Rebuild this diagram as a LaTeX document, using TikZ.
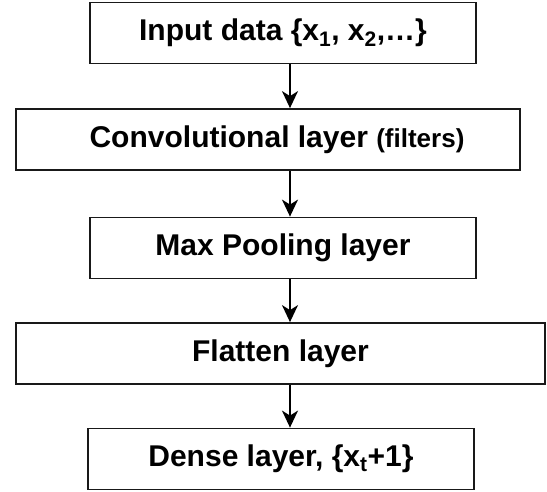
\documentclass[tikz,border=0pt]{standalone}
\usepackage{fontspec}
\setmainfont{Liberation Sans}
\usetikzlibrary{positioning, arrows.meta}

\begin{document}
\begin{tikzpicture}[x=1pt, y=-1pt,
  layer/.style={draw=black!90, rectangle, line width=1.8pt, inner sep=0pt,
    minimum height=61pt, text centered, font=\bfseries\fontsize{30}{34}\selectfont},
  arrow/.style={-{Stealth[length=17pt, width=16pt, inset=5pt]}, line width=1.8pt}
]
\useasboundingbox (0,0) rectangle (547,491);

% Layer 1: input
\node[layer, minimum width=386pt] (input) at (283,33)
  {Input data \{x\textsubscript{1}, x\textsubscript{2},\ldots\}};

% Layer 2: convolution
\node[layer, minimum width=504pt] (conv) at (268,139.5)
  {\hspace*{18pt}Convolutional layer {\fontsize{26}{30}\selectfont (filters)}};

% Layer 3: max pooling
\node[layer, minimum width=386pt] (pool) at (283,248)
  {Max Pooling layer};

% Layer 4: flatten
\node[layer, minimum width=529pt] (flat) at (280.5,353.5)
  {Flatten layer};

% Layer 5: dense
\node[layer, minimum width=386pt] (dense) at (281,459)
  {Dense layer, \{x\textsubscript{t}+1\}};

% Arrows showing data flow
\coordinate (axis) at (290,0);
\draw[arrow] (input.south -| axis) -- (conv.north -| axis);
\draw[arrow] (conv.south -| axis) -- (pool.north -| axis);
\draw[arrow] (pool.south -| axis) -- (flat.north -| axis);
\draw[arrow] (flat.south -| axis) -- (dense.north -| axis);

\end{tikzpicture}
\end{document}
